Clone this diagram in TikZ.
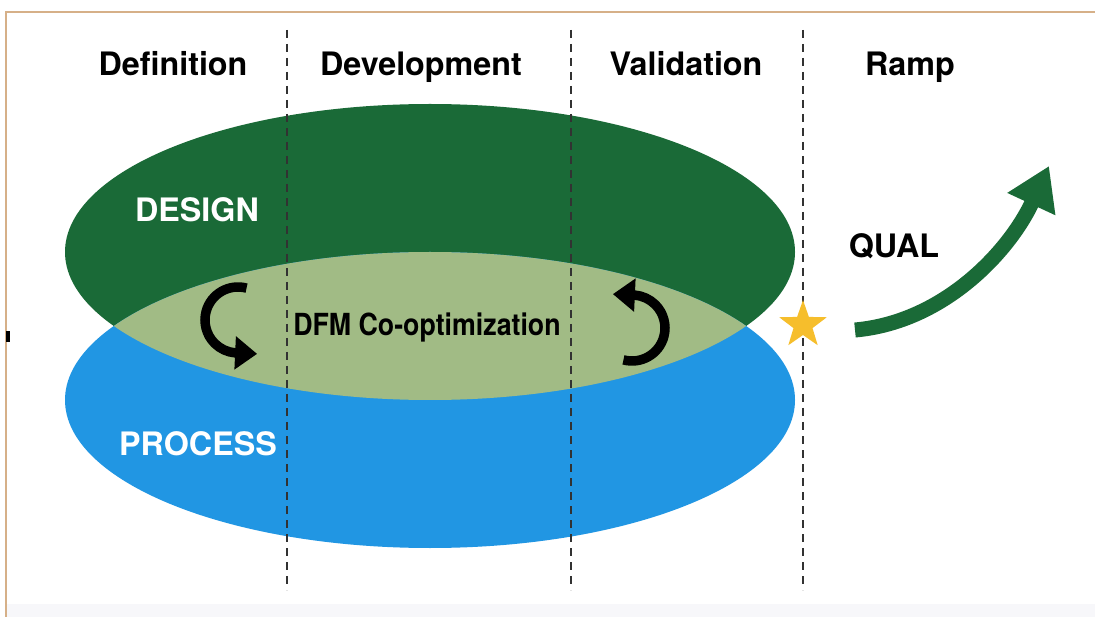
\documentclass[tikz,border=0pt]{standalone}
\usepackage{fontspec}
\setmainfont{TeX Gyre Heros}
\newfontfamily\condfont[FakeStretch=0.88]{TeX Gyre Heros}
\usetikzlibrary{arrows.meta,shapes.geometric}

\definecolor{designgreen}{RGB}{26,106,55}
\definecolor{overlapgreen}{RGB}{161,187,133}
\definecolor{processblue}{RGB}{33,150,227}
\definecolor{framebrown}{RGB}{214,176,136}
\definecolor{footgray}{RGB}{247,247,250}
\definecolor{dashgray}{RGB}{50,50,50}
\definecolor{stargold}{RGB}{246,190,44}

\tikzset{
  phase/.style={font=\fontsize{32.3}{36}\selectfont\bfseries, text=black, anchor=base, inner sep=0},
  bigword/.style={font=\fontsize{32.3}{36}\selectfont\bfseries, text=white, anchor=base, inner sep=0},
  divider/.style={dashgray, line width=2.5pt, dash pattern=on 8pt off 6pt},
  loop/.style={black, line width=9.5pt, -{Triangle[length=22pt,width=32pt]}},
  ramparrow/.style={designgreen, line width=15pt, -{Triangle[length=42pt,width=50pt]}}
}

\begin{document}
\begin{tikzpicture}[x=1pt,y=-1pt]
  \useasboundingbox (0,0) rectangle (1095,617);
  \fill[white] (0,0) rectangle (1095,617);

  % frame
  \fill[footgray] (6,604) rectangle (1095,617);
  \draw[framebrown, line width=2.5pt] (6,617) -- (6,12) -- (1095,12);
  \fill[black] (6,331) rectangle (10,342);

  % overlapping lobes
  \fill[designgreen] (430,252) ellipse [x radius=365, y radius=148];
  \fill[processblue] (430,400) ellipse [x radius=365, y radius=148];
  \begin{scope}
    \clip (430,252) ellipse [x radius=365, y radius=148];
    \fill[overlapgreen] (430,400) ellipse [x radius=365, y radius=148];
  \end{scope}

  % phase dividers
  \coordinate (d1t) at (287,30);  \coordinate (d1b) at (287,590);
  \coordinate (d2t) at (571,30);  \coordinate (d2b) at (571,590);
  \coordinate (d3t) at (803,30);  \coordinate (d3b) at (803,590);
  \draw[divider] (d1t) -- (d1b);
  \draw[divider] (d2t) -- (d2b);
  \draw[divider] (d3t) -- (d3b);

  % phase headings
  \node[phase] (def) at (173,76) {Definition};
  \node[phase] (dev) at (421,76) {Development};
  \node[phase] (val) at (686,76) {Validation};
  \node[phase] (ramp) at (910,76) {Ramp};

  % lobe labels
  \node[bigword] (design) at (197,222) {DESIGN};
  \node[bigword] (process) at (198,455) {PROCESS};
  \node[anchor=base, inner sep=0, font=\condfont\fontsize{30.4}{34}\selectfont\bfseries]
    (dfm) at (427,336) {DFM Co-optimization};
  \node[phase] (qual) at (894,258) {QUAL};

  % co-optimization loops
  \draw[loop] (238,320) ++(285:33) arc[start angle=285, end angle=95, radius=33] -- ++(22,1);
  \draw[loop] (632,328) ++(105:33) arc[start angle=105, end angle=-85, radius=33] -- ++(-22,-1);

  % qualification milestone and ramp
  \node[star, star points=5, star point ratio=2.5, fill=stargold, minimum size=50pt, inner sep=0]
    (qstar) at (803,325) {};
  \coordinate (rampstart) at (855,330);
  \coordinate (ramptip) at (1049,166);
  \draw[ramparrow] (rampstart) .. controls (945,322) and (1010,250) .. (ramptip);
\end{tikzpicture}
\end{document}
